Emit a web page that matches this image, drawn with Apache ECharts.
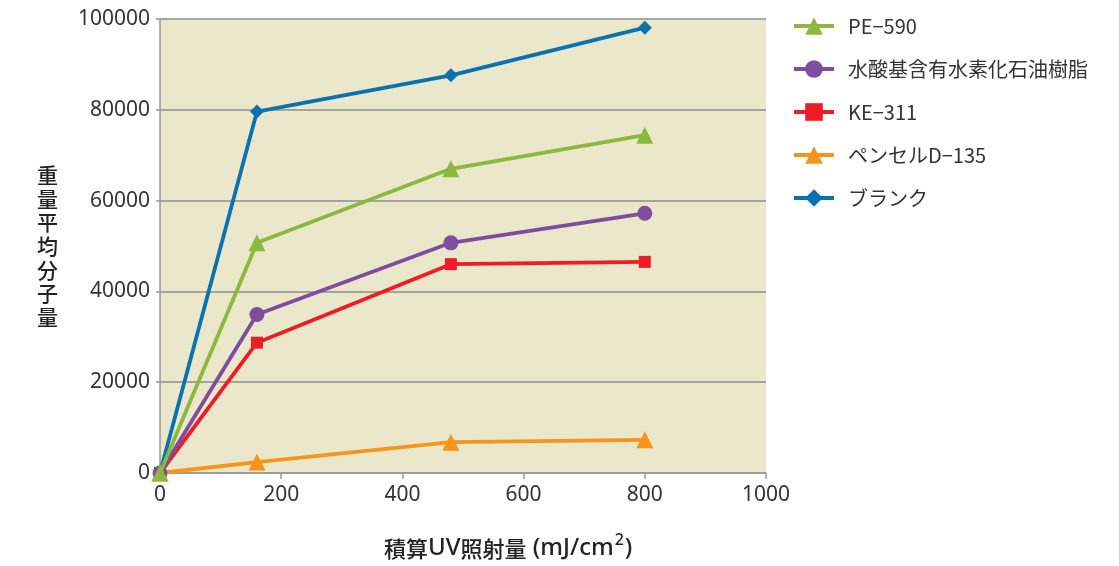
<!DOCTYPE html>
<html><head><meta charset="utf-8">
<script src="https://cdn.jsdelivr.net/npm/echarts@6/dist/echarts.min.js"></script>
<style>html,body{margin:0;padding:0;background:#fff}#c{width:1119px;height:566px}</style>
</head><body><div id="c"></div>
<script>
const xValues = [0, 160, 480, 800];
const seriesNames = ['PE−590', '水酸基含有水素化石油樹脂', 'KE−311', 'ペンセルD−135', 'ブランク'];
const pe590 = [0, 50700, 67000, 74400];
const hydroxyResin = [0, 34900, 50700, 57200];
const ke311 = [0, 28700, 46000, 46500];
const pensel = [0, 2400, 6800, 7300];
const blank = [0, 79600, 87600, 98100];
const xTicks = [0, 200, 400, 600, 800, 1000];
const yTicks = [0, 20000, 40000, 60000, 80000, 100000];

const FONT = "'Noto Sans', 'Noto Sans CJK JP', sans-serif";
const JP = "'Noto Sans CJK JP', 'Noto Sans', sans-serif";
const colors = ['#8DB83E', '#7D4E9E', '#EE1C25', '#F7941E', '#0B72B0'];
const symbols = ['triangle', 'circle', 'rect', 'triangle', 'diamond'];
const symSizes = [17, 15, 12, 17, 14];
const datas = [pe590, hydroxyResin, ke311, pensel, blank];

const chart = echarts.init(document.getElementById('c'));
chart.setOption({
  animation: false,
  backgroundColor: '#fff',
  textStyle: { fontFamily: FONT },
  grid: { left: 160, right: 353, top: 19, bottom: 93, show: true, backgroundColor: '#EBE7CB', borderWidth: 0 },
  legend: {
    orient: 'vertical', left: 787, top: 11, itemGap: 23,
    itemWidth: 40, itemHeight: 22,
    lineStyle: { width: 4 },
    textStyle: { fontFamily: JP, fontSize: 20, color: '#333', padding: [0, 0, 0, 9] },
    data: seriesNames
  },
  xAxis: {
    type: 'value', min: xTicks[0], max: xTicks[xTicks.length - 1], interval: 200,
    axisLine: { show: true, lineStyle: { color: '#999', width: 1.5 } },
    axisTick: { show: true, length: 6, lineStyle: { color: '#999', width: 1.5 } },
    axisLabel: { fontSize: 21, color: '#333', margin: 12, fontFamily: FONT, formatter: v => String(v) },
    splitLine: { show: false }
  },
  yAxis: {
    type: 'value', min: yTicks[0], max: yTicks[yTicks.length - 1], interval: 20000,
    name: '重\n量\n平\n均\n分\n子\n量', nameLocation: 'middle', nameRotate: 0, nameGap: 102,
    nameTextStyle: { fontFamily: JP, fontSize: 21, fontWeight: 500, color: '#222', lineHeight: 23.6 },
    axisLine: { show: true, lineStyle: { color: '#999', width: 1.5 } },
    axisTick: { show: true, length: 4, lineStyle: { color: '#999', width: 1.5 } },
    axisLabel: { fontSize: 21, color: '#333', margin: 10, fontFamily: FONT, formatter: v => String(v) },
    splitLine: { show: true, lineStyle: { color: '#8c8c8c', width: 1.5 } }
  },
  graphic: [{
    type: 'text', left: 384, top: 532,
    style: {
      text: '{a|積算}{b|UV}{a|照射量}{b| (mJ/cm}{s|2}{b|)}',
      rich: {
        a: { fontFamily: JP, fontSize: 22, fontWeight: 500, fill: '#222', verticalAlign: 'bottom' },
        b: { fontFamily: FONT, fontSize: 24, fontWeight: 500, fill: '#222', verticalAlign: 'bottom' },
        s: { fontFamily: FONT, fontSize: 16, fontWeight: 500, fill: '#222', verticalAlign: 'top', padding: [0, 1, 12, 1] }
      }
    }
  }],
  series: seriesNames.map((n, i) => ({
    name: n, type: 'line',
    data: xValues.map((x, j) => [x, datas[i][j]]),
    symbol: symbols[i], symbolSize: symSizes[i],
    lineStyle: { color: colors[i], width: 3.8 },
    itemStyle: { color: colors[i] },
    z: 10 - i
  }))
});
</script></body></html>
